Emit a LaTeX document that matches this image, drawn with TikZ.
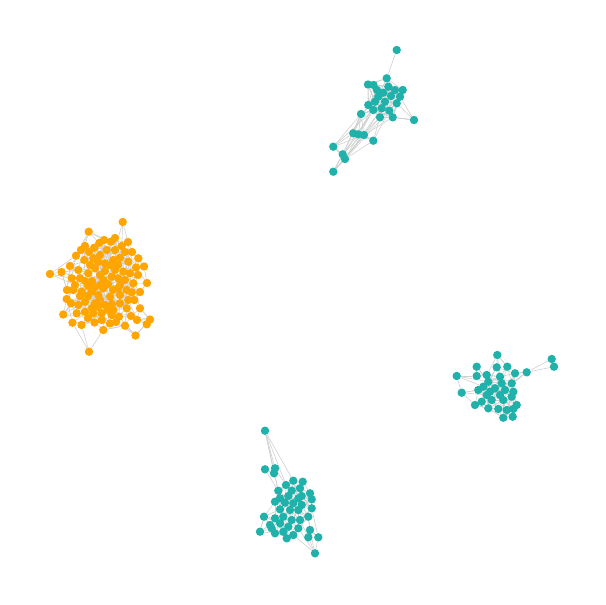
\documentclass[tikz,border=0pt]{standalone}
\usetikzlibrary{backgrounds}
\definecolor{orng}{HTML}{FFA500}
\definecolor{tealc}{HTML}{20B2AA}
\definecolor{edgec}{HTML}{D0D0D0}
\tikzset{
  dot/.style={circle,inner sep=0pt,minimum size=8.4pt,draw=none},
  odot/.style={dot,fill=orng},
  tdot/.style={dot,fill=tealc},
  edge/.style={draw=edgec,line width=0.6pt}
}
\newcommand\randedges[4]{%
 \foreach \k in {1,...,#3}{%
  \pgfmathrandominteger{\ea}{1}{#2}%
  \pgfmathrandominteger{\eb}{1}{#2}%
  \ifnum\ea=\eb\relax\else
   \pgfpointanchor{#1\ea}{center}\pgfgetlastxy{\xa}{\ya}%
   \pgfpointanchor{#1\eb}{center}\pgfgetlastxy{\xb}{\yb}%
   \pgfmathveclen{\xa-\xb}{\ya-\yb}%
   \ifdim\pgfmathresult pt<#4pt\relax \draw[edge] (#1\ea) -- (#1\eb);\fi
  \fi}}
\begin{document}
\begin{tikzpicture}[x=1pt,y=-1pt]
\useasboundingbox (0,0) rectangle (605,605);
\pgfmathsetseed{12345}
% orange cluster
\foreach [count=\i] \x/\y in {122.7/222,88.7/231.7,50/274,61.5/272,89/351.7,147/283,150/319.5,146.7/324.3,135.5/335.5,125/325.7,
103.3/330,110/323.5,119/316.7,138.3/258.3,144/266.5,136/267.5,63.3/314.5,72.5/322.7,81.5/325,94.5/322.5,
66.7/299,140/308.3,134.3/300,111/241.7,99.3/243,121.7/246,85/246,81/250,94.3/247.7,76/255.7,
84.3/260,93.3/258.3,71.7/278.3,78.3/270,80/278.3,75/285,88.3/273.3,95/268.3,106.7/250,115/250,
128.3/261.7,120/257.7,113.3/260,105/263.3,115/270,123.3/271.7,130/273.3,111.7/276.7,118.3/278.3,103.3/280,
133.3/283.3,120/285,71/303.3,76.7/313.3,85/311.7,93.3/313.3,101.7/313.3,73.3/290,81.7/291.7,91.7/291.7,
98.3/295,85/301.7,95/303.3,78.3/305,103.3/288.3,118.3/288.3,126.7/290,131.7/292.3,110/296.7,120/295,
128.3/300,105/305,113.3/310,120/303.3,126.7/308.3,101.7/320,111.7/315,90/265,98/262,105/271,
92/281,100/285,108/284,113/290,95/287,88/296,100/300,112/304,98/307,88/286,
125/280,100/275,110/265,118/265,85/281,80/296,108/310,92/308,125/252,132/252,
100/255,89/252,138/275,70/266,67/290,140/292,116/322,88/318,131/316,137/320,
128/242,104/240,115/238}
  {\node[odot] (o\i) at (\x,\y) {}; \xdef\No{\i}}
% top teal cluster
\foreach [count=\i] \x/\y in {396.7/50,386.7/78.3,368/84.5,373.5/85,388.3/86.7,395/90,402.7/90,400/96.7,383.3/92.7,378.3/96.7,
391/96,375/101.7,385/101.7,396.7/103.3,368.3/105,373.3/110,381.7/108.3,389.3/110.7,392.7/117.3,380/117.3,
361/114,414/120,353.3/133.3,358.3/134.3,364/135,373.3/140.7,333.3/146.7,342.7/154.3,345/159,333.3/171.7,377/90}
  {\node[tdot] (a\i) at (\x,\y) {}; \xdef\Na{\i}}
% right teal cluster
\foreach [count=\i] \x/\y in {497.3/355,551.7/359,554/366.7,526.7/372.3,476.7/366.7,496.7/367.3,507.3/366.7,456.7/376,476.7/376,486.7/375,
500/376.7,515/373.3,511.7/383.3,488.3/381.7,501.7/383.3,483.3/386.7,495/388.3,505/390,461.7/392.7,478.3/390,
513.3/391.7,486.7/395,500/395,511.7/396.7,491.7/400,503.3/400,481.7/401.7,475/405,516.7/405,488.3/408.3,
498.3/409,506.7/410,513.3/409,503.3/417.7,512.7/416.7,490/391.7}
  {\node[tdot] (b\i) at (\x,\y) {}; \xdef\Nb{\i}}
% bottom teal cluster
\foreach [count=\i] \x/\y in {265/430.7,265/469.3,275/468.3,274/473.3,293.3/480.7,302.7/481.7,286/485,300/488.3,278.3/490.7,291.7/490.7,
310/493.3,298.3/498.3,311.7/499.3,280/498.3,288.3/496,301.7/496,275/501.7,285/502.7,293.3/503.3,311.7/508.3,
301.7/505,280/509.3,290/510,298.3/510,308.3/516.7,264/516.7,275/518.3,283.3/516.7,291.7/520,300/520,
270/525,280/523.3,288.3/526.7,298.3/528.3,310/530,260/531.7,275/533.3,283.3/531.7,293.3/535,286.7/538.3,
308.3/537.3,318.3/537.3,315/553.3,271.7/528.3}
  {\node[tdot] (c\i) at (\x,\y) {}; \xdef\Nc{\i}}
\begin{pgfonlayer}{background}
\randedges{o}{\No}{2600}{26}
\randedges{a}{\Na}{700}{22}
\randedges{b}{\Nb}{800}{20}
\randedges{c}{\Nc}{900}{20}
\foreach \p/\q in {o5/o18,o5/o11,o5/o19,o1/o40,o1/o26,o2/o28,o2/o25,o2/o30,o3/o4,o3/o33,o3/o36,o3/o30,
  o7/o22,o8/o75,o7/o109,o8/o110,o9/o10,o9/o13,o6/o51,o6/o15,
  a1/a2,a22/a14,a22/a19,a22/a8,a27/a25,a27/a16,a27/a21,a28/a20,a28/a16,a29/a17,a29/a26,
  a30/a28,a30/a29,a30/a23,a30/a20,a30/a18,a30/a25,a23/a15,a24/a16,a25/a17,a23/a21,a24/a12,a25/a19,
  a26/a20,a26/a18,a27/a23,a28/a24,a29/a25,a3/a15,a4/a13,a28/a21,a29/a16,
  b2/b3,b2/b4,b3/b4,b4/b12,b4/b18,b4/b13,b1/b6,b1/b10,b1/b11,b8/b9,b8/b16,b19/b20,b19/b28,b19/b22,b8/b14,
  c1/c3,c1/c4,c1/c7,c1/c9,c1/c5,c43/c41,c43/c35,c43/c39,c43/c34,c36/c31,c36/c26,c42/c35,c42/c20,c2/c9,c3/c7}
  {\draw[edge] (\p) -- (\q);}
\end{pgfonlayer}
\end{tikzpicture}
\end{document}
